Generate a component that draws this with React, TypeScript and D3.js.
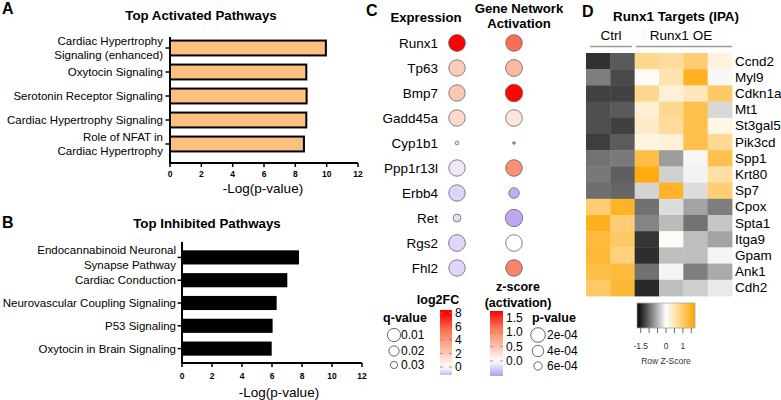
import React from "react";
import * as d3 from "d3";

const FONT = "'Liberation Sans', Arial, Helvetica, sans-serif";

// Panel A
const activatedPathways = [
  "Cardiac Hypertrophy\nSignaling (enhanced)",
  "Oxytocin Signaling",
  "Serotonin Receptor Signaling",
  "Cardiac Hypertrophy Signaling",
  "Role of NFAT in\nCardiac Hypertrophy",
];
const activatedLogP = [9.95, 8.7, 8.72, 8.7, 8.55];

// Panel B
const inhibitedPathways = [
  "Endocannabinoid Neuronal\nSynapse Pathway",
  "Cardiac Conduction",
  "Neurovascular Coupling Signaling",
  "P53 Signaling",
  "Oxytocin in Brain Signaling",
];
const inhibitedLogP = [7.8, 7.02, 6.31, 6.04, 5.98];

const xTicks = [0, 2, 4, 6, 8, 10, 12];

// Panel C
const cGenes = ["Runx1", "Tp63", "Bmp7", "Gadd45a", "Cyp1b1", "Ppp1r13l", "Erbb4", "Ret", "Rgs2", "Fhl2"];
const log2FC = [8, 2.0, 2.2, 1.5, 0.8, -0.4, -0.75, -0.55, -0.7, -0.7];
const qValues = [0.0095, 0.0105, 0.0105, 0.0105, 0.044, 0.0105, 0.0105, 0.033, 0.0095, 0.0105];
const zScores = [1.2, 0.6, 1.72, 0.22, 1.0, 0.95, -0.42, -0.45, 0, 1.05];
const pValues = [2.1e-4, 2.0e-4, 1.6e-4, 2.1e-4, 9.9e-4, 2.1e-4, 5.5e-4, 1.7e-4, 2.1e-4, 2.1e-4];
const log2FCTicks = [0, 2, 4, 6, 8];
const zTicks = [0, 0.5, 1.0, 1.5];
const qLegend = [0.01, 0.02, 0.03];
const pLegend = [2e-4, 4e-4, 6e-4];

// Panel D
const hmGenes = ["Ccnd2", "Myl9", "Cdkn1a", "Mt1", "St3gal5", "Pik3cd", "Spp1", "Krt80", "Sp7", "Cpox", "Spta1", "Itga9", "Gpam", "Ank1", "Cdh2"];
const hmSamples = ["Ctrl1", "Ctrl2", "OE1", "OE2", "OE3", "OE4"];
const hmCcnd2 = [-1.39, -1.11, 0.77, 0.66, 0.94, 0.23];
const hmMyl9 = [-0.87, -1.22, 0.05, 0.52, 1.5, -0.05];
const hmCdkn1a = [-1.28, -1.28, 0.77, 0.26, 0.46, 1.04];
const hmMt1 = [-1.19, -1.11, 0.3, 0.75, 1.2, -0.26];
const hmSt3gal5 = [-1.19, -1.29, 0.39, 0.67, 1.2, 0.18];
const hmPik3cd = [-1.3, -1.1, 0.2, 0.26, 1.2, 0.73];
const hmSpp1 = [-0.95, -0.9, 1.25, -0.66, -0.06, 1.2];
const hmKrt80 = [-0.91, -1.08, 1.6, -0.31, -0.09, 0.62];
const hmSp7 = [-0.98, -1.04, -0.29, 1.45, -0.23, 0.94];
const hmCpox = [0.94, 1.46, -0.96, -0.23, -0.62, -0.87];
const hmSpta1 = [1.51, 0.94, -0.83, -0.46, -0.95, -0.39];
const hmItga9 = [1.3, 1.04, -1.36, 0.06, -0.44, -0.62];
const hmGpam = [1.36, 0.88, -1.41, -0.44, -0.44, -0.07];
const hmAnk1 = [1.25, 1.3, -0.96, -0.07, -0.87, -0.57];
const hmCdh2 = [1.04, 1.36, -1.45, -0.44, -0.33, -0.14];
const hmValues = [hmCcnd2, hmMyl9, hmCdkn1a, hmMt1, hmSt3gal5, hmPik3cd, hmSpp1, hmKrt80, hmSp7, hmCpox, hmSpta1, hmItga9, hmGpam, hmAnk1, hmCdh2];
const keyTicks = [-1.5, -1, -0.5, 0, 0.5, 1, 1.5];
const keyTickLabels = [-1.5, 0, 1];

type BarProps = {
  cats: string[];
  vals: number[];
  xRange: [number, number];
  yRange: [number, number];
  axisTop: number;
  axisY: number;
  fill: string;
  strokeW: number;
  labelX: number;
  titleText: string;
  titleX: number;
  titleY: number;
  axisLabelX: number;
  axisLabelY: number;
  tickLabelY: number;
  letter: string;
  letterY: number;
};

function BarPanel(p: BarProps) {
  const x = d3.scaleLinear().domain([0, 12]).range(p.xRange);
  const y = d3
    .scaleBand<string>()
    .domain(p.cats)
    .range(p.yRange)
    .paddingInner(0.38)
    .paddingOuter(0.19);
  const x0 = x(0);
  return (
    <g>
      <text x={2} y={p.letterY} fontSize={16} fontWeight="bold" fontFamily={FONT} dominantBaseline="central">
        {p.letter}
      </text>
      <text x={p.titleX} y={p.titleY} fontSize={13.3} fontWeight="bold" fontFamily={FONT} textAnchor="middle" dominantBaseline="central">
        {p.titleText}
      </text>
      {p.cats.map((c, i) => {
        const yy = y(c)!;
        const bw = y.bandwidth();
        const lines = c.split("\n");
        const cy = yy + bw / 2;
        return (
          <g key={c}>
            <rect
              x={x0}
              y={yy}
              width={x(p.vals[i]) - x0}
              height={bw}
              fill={p.fill}
              stroke="#000"
              strokeWidth={p.strokeW}
            />
            <line x1={x0 - 4.5} x2={x0} y1={cy} y2={cy} stroke="#000" strokeWidth={1.5} />
            {lines.map((ln, j) => (
              <text
                key={j}
                x={p.labelX}
                y={cy + (j - (lines.length - 1) / 2) * 14.5}
                fontSize={11.5}
                fontFamily={FONT}
                textAnchor="end"
                dominantBaseline="central"
              >
                {ln}
              </text>
            ))}
          </g>
        );
      })}
      <line x1={x0} x2={x0} y1={p.axisTop} y2={p.axisY} stroke="#000" strokeWidth={2} />
      <line x1={x0 - 1} x2={p.xRange[1]} y1={p.axisY} y2={p.axisY} stroke="#000" strokeWidth={2} />
      {xTicks.map((t) => (
        <g key={t}>
          <line x1={x(t)} x2={x(t)} y1={p.axisY} y2={p.axisY + 4} stroke="#000" strokeWidth={1.5} />
          <text x={x(t)} y={p.tickLabelY} fontSize={8.5} fontWeight="bold" fontFamily={FONT} textAnchor="middle" dominantBaseline="central">
            {t}
          </text>
        </g>
      ))}
      <text x={p.axisLabelX} y={p.axisLabelY} fontSize={13.5} fontFamily={FONT} textAnchor="middle" dominantBaseline="central">
        -Log(p-value)
      </text>
    </g>
  );
}

function PanelC() {
  const rowY = d3.scalePoint<string>().domain(cGenes).range([43, 268]);
  const exprX = 457;
  const actX = 514;
  const fcColor = d3
    .scaleLinear<string>()
    .domain([-1.2, 0, 8 / 3, 16 / 3, 8])
    .range(["#cbb8f5", "#ffffff", "#fbbba3", "#f6775a", "#ff0000"])
    .clamp(true);
  const zColor = d3
    .scaleLinear<string>()
    .domain([-0.52, 0, 1.74 / 3, (2 * 1.74) / 3, 1.74])
    .range(["#b59bf0", "#ffffff", "#fbbba3", "#f6775a", "#ff0000"])
    .clamp(true);
  const rq = d3.scaleLinear().domain([0.01, 0.03]).range([8.3, 4.5]);
  const rp = d3.scaleLinear().domain([2e-4, 6e-4]).range([8.4, 4.8]);
  const rqLeg = (q: number) => rq(q) * 0.8;
  const rpLeg = (v: number) => rp(v) * 0.87;

  const fcY = d3.scaleLinear().domain([0, 8]).range([367, 313]);
  const fcMin = fcY.invert(375);
  const fcMax = fcY.invert(310);
  const zY = d3.scaleLinear().domain([0, 1.5]).range([361, 318]);
  const zMin = zY.invert(376);
  const zMax = zY.invert(311);
  const stops = d3.range(0, 1.0001, 0.05);

  return (
    <g fontFamily={FONT}>
      <defs>
        <linearGradient id="fcGrad" x1="0" y1="1" x2="0" y2="0">
          {stops.map((s) => (
            <stop key={s} offset={s} stopColor={fcColor(fcMin + s * (fcMax - fcMin))} />
          ))}
        </linearGradient>
        <linearGradient id="zGrad" x1="0" y1="1" x2="0" y2="0">
          {stops.map((s) => (
            <stop key={s} offset={s} stopColor={zColor(zMin + s * (zMax - zMin))} />
          ))}
        </linearGradient>
      </defs>
      <text x={366} y={10} fontSize={16} fontWeight="bold" dominantBaseline="central">C</text>
      <text x={426} y={17} fontSize={13.2} fontWeight="bold" textAnchor="middle" dominantBaseline="central">Expression</text>
      <text x={519} y={8} fontSize={13.2} fontWeight="bold" textAnchor="middle" dominantBaseline="central">Gene Network</text>
      <text x={519} y={23} fontSize={13.2} fontWeight="bold" textAnchor="middle" dominantBaseline="central">Activation</text>
      {cGenes.map((g, i) => {
        const cy = rowY(g)!;
        return (
          <g key={g}>
            <text x={438} y={cy} fontSize={13.5} textAnchor="end" dominantBaseline="central">{g}</text>
            <circle cx={exprX} cy={cy} r={rq(qValues[i])} fill={fcColor(log2FC[i])} stroke="#666" strokeWidth={0.8} />
            <circle cx={actX} cy={cy} r={rp(pValues[i])} fill={zColor(zScores[i])} stroke="#666" strokeWidth={0.8} />
          </g>
        );
      })}
      {/* log2FC legend */}
      <text x={438} y={300} fontSize={12.5} fontWeight="bold" textAnchor="middle" dominantBaseline="central">log2FC</text>
      <rect x={440} y={310} width={12} height={65} fill="url(#fcGrad)" />
      {log2FCTicks.map((t) => (
        <g key={t}>
          <line x1={449} x2={452} y1={fcY(t)} y2={fcY(t)} stroke="#e06060" strokeWidth={0.8} />
          <line x1={440} x2={443} y1={fcY(t)} y2={fcY(t)} stroke="#e06060" strokeWidth={0.8} />
          <text x={455} y={fcY(t)} fontSize={12} dominantBaseline="central">{t}</text>
        </g>
      ))}
      {/* z-score legend */}
      <text x={518} y={287} fontSize={12.5} fontWeight="bold" textAnchor="middle" dominantBaseline="central">z-score</text>
      <text x={518} y={303} fontSize={12.5} fontWeight="bold" textAnchor="middle" dominantBaseline="central">(activation)</text>
      <rect x={490} y={311} width={13} height={65} fill="url(#zGrad)" />
      {zTicks.map((t) => (
        <g key={t}>
          <line x1={500} x2={503} y1={zY(t)} y2={zY(t)} stroke="#e06060" strokeWidth={0.8} />
          <line x1={490} x2={493} y1={zY(t)} y2={zY(t)} stroke="#e06060" strokeWidth={0.8} />
          <text x={506} y={zY(t)} fontSize={12} dominantBaseline="central">{t.toFixed(1)}</text>
        </g>
      ))}
      {/* q-value legend */}
      <text x={405} y={318} fontSize={12.5} fontWeight="bold" textAnchor="middle" dominantBaseline="central">q-value</text>
      {qLegend.map((q, i) => {
        const cy = [335, 351, 365][i];
        return (
          <g key={q}>
            <circle cx={394} cy={cy} r={rqLeg(q)} fill="#fff" stroke="#444" strokeWidth={0.8} />
            <text x={401} y={cy} fontSize={12} dominantBaseline="central">{q.toFixed(2)}</text>
          </g>
        );
      })}
      {/* p-value legend */}
      <text x={554} y={318} fontSize={12.5} fontWeight="bold" textAnchor="middle" dominantBaseline="central">p-value</text>
      {pLegend.map((v, i) => {
        const cy = [335, 351, 366][i];
        return (
          <g key={v}>
            <circle cx={538} cy={cy} r={rpLeg(v)} fill="#fff" stroke="#444" strokeWidth={0.8} />
            <text x={547} y={cy} fontSize={12} dominantBaseline="central">{d3.format(".0e")(v).replace("e-4", "e-04")}</text>
          </g>
        );
      })}
    </g>
  );
}

function PanelD() {
  const x = d3.scaleBand<string>().domain(hmSamples).range([586, 732]);
  const y = d3.scaleBand<string>().domain(hmGenes).range([53, 296]);
  const color = d3.scaleLinear<string>().domain([-1.72, 0, 1.72]).range(["#000000", "#ffffff", "#ffa500"]).clamp(true);
  const kx = d3.scaleLinear().domain([-1.72, 1.72]).range([637, 695]);
  const stops = d3.range(0, 1.0001, 0.05);
  return (
    <g fontFamily={FONT}>
      <defs>
        <linearGradient id="hmGrad" x1="0" y1="0" x2="1" y2="0">
          {stops.map((s) => (
            <stop key={s} offset={s} stopColor={color(-1.72 + s * 3.44)} />
          ))}
        </linearGradient>
      </defs>
      <text x={582} y={11} fontSize={16} fontWeight="bold" dominantBaseline="central">D</text>
      <text x={676} y={16} fontSize={13.4} fontWeight="bold" textAnchor="middle" dominantBaseline="central">Runx1 Targets (IPA)</text>
      <text x={611} y={35} fontSize={13.5} textAnchor="middle" dominantBaseline="central">Ctrl</text>
      <text x={681} y={35} fontSize={13.5} textAnchor="middle" dominantBaseline="central">Runx1 OE</text>
      <line x1={590} x2={632} y1={46.5} y2={46.5} stroke="#999" strokeWidth={1.5} />
      <line x1={636} x2={732} y1={46.5} y2={46.5} stroke="#999" strokeWidth={1.5} />
      {hmGenes.map((g, i) => (
        <g key={g}>
          {hmSamples.map((s, j) => (
            <rect
              key={s}
              x={x(s)!}
              y={y(g)!}
              width={x.bandwidth() + 0.4}
              height={y.bandwidth() + 0.4}
              fill={color(hmValues[i][j])}
            />
          ))}
          <text x={735} y={y(g)! + y.bandwidth() / 2} fontSize={13.5} dominantBaseline="central">{g}</text>
        </g>
      ))}
      <rect x={637} y={303} width={58} height={25} fill="url(#hmGrad)" stroke="#aaa" strokeWidth={0.8} />
      {keyTicks.map((t) => (
        <line key={t} x1={kx(t)} x2={kx(t)} y1={328} y2={333} stroke="#444" strokeWidth={0.8} />
      ))}
      {keyTickLabels.map((t) => (
        <text key={t} x={kx(t)} y={346} fontSize={8.5} textAnchor="middle" fill="#333" dominantBaseline="central">{t}</text>
      ))}
      <text x={666} y={361} fontSize={8.5} textAnchor="middle" fill="#333" dominantBaseline="central">Row Z-Score</text>
    </g>
  );
}

export default function App() {
  return (
    <svg
      width={781}
      height={400}
      viewBox="0 0 781 400"
      style={{ position: "absolute", left: 0, top: 0, background: "#fff" }}
    >
      <rect width={781} height={400} fill="#fff" />
      <BarPanel
        cats={activatedPathways}
        vals={activatedLogP}
        xRange={[170, 358]}
        yRange={[36, 156]}
        axisTop={37}
        axisY={163}
        fill="#fbbf80"
        strokeW={2}
        labelX={163}
        titleText="Top Activated Pathways"
        titleX={201}
        titleY={15}
        axisLabelX={263}
        axisLabelY={188}
        tickLabelY={174}
        letter="A"
        letterY={8}
      />
      <BarPanel
        cats={inhibitedPathways}
        vals={inhibitedLogP}
        xRange={[182, 362]}
        yRange={[246, 360]}
        axisTop={242}
        axisY={363}
        fill="#000"
        strokeW={0}
        labelX={176}
        titleText="Top Inhibited Pathways"
        titleX={207}
        titleY={223}
        axisLabelX={279}
        axisLabelY={392}
        tickLabelY={376}
        letter="B"
        letterY={222}
      />
      <PanelC />
      <PanelD />
    </svg>
  );
}
